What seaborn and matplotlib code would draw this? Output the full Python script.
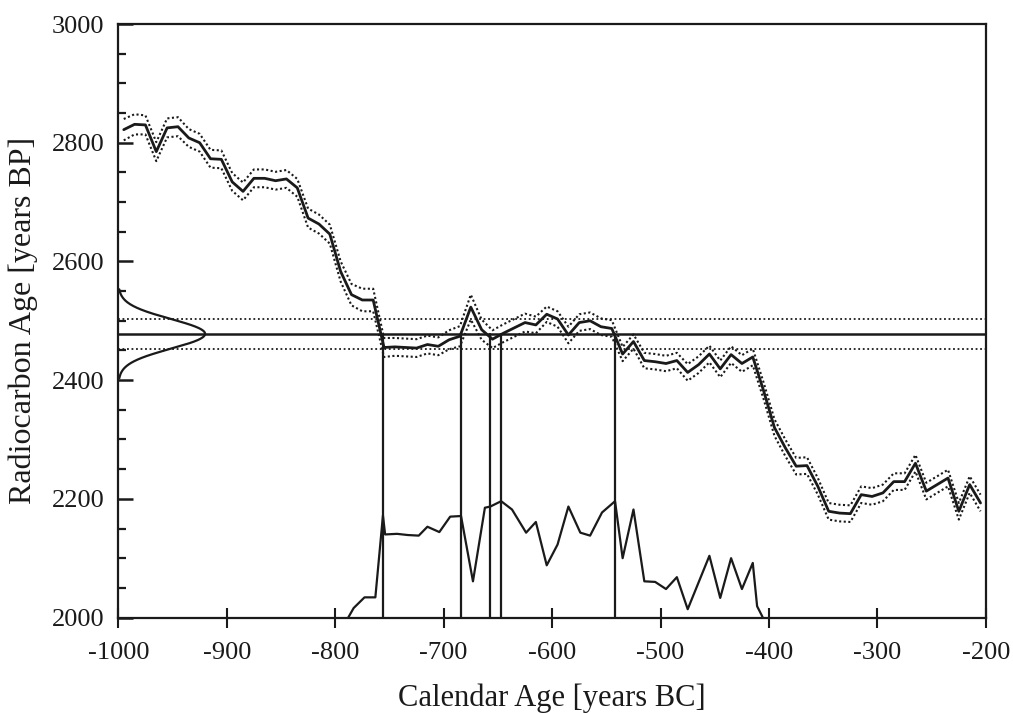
import numpy as np
import pandas as pd
import matplotlib
matplotlib.use("Agg")
import matplotlib.pyplot as plt
import seaborn as sns
from matplotlib.ticker import MultipleLocator

# ---- data ----
cal_years = list(range(-995, -200, 10))
cal_c14 = [2822, 2831, 2830, 2785, 2825, 2827, 2808, 2800, 2773, 2772,
           2734, 2718, 2740, 2740, 2736, 2739, 2724, 2673, 2663, 2646,
           2583, 2544, 2535, 2535, 2455, 2456, 2455, 2454, 2460, 2457,
           2468, 2474, 2523, 2485, 2469, 2479, 2488, 2497, 2493, 2511,
           2503, 2476, 2497, 2500, 2490, 2487, 2444, 2465, 2433, 2431,
           2428, 2433, 2413, 2426, 2444, 2419, 2443, 2428, 2439, 2382,
           2320, 2286, 2255, 2256, 2221, 2179, 2176, 2175, 2207, 2204,
           2210, 2229, 2229, 2260, 2213, 2224, 2235, 2179, 2224, 2193]
cal_sigma = [18, 17, 16, 16, 16, 16, 15, 15, 15, 15,
             15, 15, 15, 15, 15, 15, 15, 16, 16, 16,
             17, 18, 19, 19, 16, 15, 15, 15, 15, 15,
             16, 17, 21, 17, 15, 15, 15, 15, 14, 13,
             13, 14, 14, 14, 14, 14, 12, 12, 13, 13,
             13, 13, 14, 14, 14, 14, 14, 14, 14, 14,
             14, 14, 14, 14, 14, 14, 14, 14, 14, 14,
             14, 14, 14, 14, 14, 14, 14, 14, 14, 14]

sample_age = 2478
sample_sigma = 25

prob_years = [-788, -783, -773, -763, -756, -754, -743, -733, -723, -715,
              -704, -694, -684, -673, -662, -657, -647, -637, -624, -615,
              -605, -595, -585, -574, -565, -554, -542, -535, -525, -515,
              -505, -495, -485, -475, -455, -445, -435, -425, -415, -411, -406]
prob_curve = [2000, 2016, 2034, 2034, 2172, 2140, 2141, 2139, 2138, 2153,
              2144, 2170, 2171, 2061, 2185, 2187, 2196, 2182, 2143, 2161,
              2088, 2123, 2187, 2143, 2138, 2177, 2196, 2100, 2182, 2061,
              2060, 2048, 2068, 2014, 2104, 2033, 2100, 2048, 2092, 2019, 2001]

intercepts = [-756, -684, -657, -647, -542]

x_ticks = [-1000, -900, -800, -700, -600, -500, -400, -300, -200]
y_ticks = [2000, 2200, 2400, 2600, 2800, 3000]

# ---- style ----
sns.set_theme(style="ticks")
plt.rcParams["font.family"] = ["Liberation Serif", "DejaVu Serif"]
plt.rcParams["axes.linewidth"] = 1.6

fig = plt.figure(figsize=(10.13, 7.13), dpi=100)
ax = fig.add_axes([0.1168, 0.1339, 0.8565, 0.8324])

cal = pd.DataFrame({"year": cal_years, "c14": cal_c14, "sig": cal_sigma})
cal["upper"] = cal["c14"] + cal["sig"]
cal["lower"] = cal["c14"] - cal["sig"]

ink = "#1a1a1a"
# calibration curve with 1-sigma band
sns.lineplot(data=cal, x="year", y="c14", ax=ax, color=ink, lw=2.0)
sns.lineplot(data=cal, x="year", y="upper", ax=ax, color=ink, lw=1.5,
             linestyle=(0, (1, 1.2)))
sns.lineplot(data=cal, x="year", y="lower", ax=ax, color=ink, lw=1.5,
             linestyle=(0, (1, 1.2)))

# measured radiocarbon date: line and +/- sigma
ax.axhline(sample_age, color=ink, lw=1.8)
ax.axhline(sample_age + sample_sigma, color=ink, lw=1.3, linestyle=(0, (1, 1.5)))
ax.axhline(sample_age - sample_sigma, color=ink, lw=1.3, linestyle=(0, (1, 1.5)))

# gaussian of the measurement on the y axis
gy = np.linspace(sample_age - 3 * sample_sigma, sample_age + 3 * sample_sigma, 300)
gx = -1000 + 80 * np.exp(-0.5 * ((gy - sample_age) / sample_sigma) ** 2)
gauss = pd.DataFrame({"x": gx, "y": gy})
sns.lineplot(data=gauss, x="x", y="y", ax=ax, sort=False, color=ink, lw=1.6,
             estimator=None)

# intercept verticals
for xv in intercepts:
    ax.plot([xv, xv], [2000, sample_age], color=ink, lw=1.6)

# calendar probability distribution
prob = pd.DataFrame({"year": prob_years, "p": prob_curve})
sns.lineplot(data=prob, x="year", y="p", ax=ax, color=ink, lw=1.6)

ax.set_xlim(-1000, -200)
ax.set_ylim(2000, 3000)
ax.set_xticks(x_ticks)
ax.set_xticklabels([str(t) for t in x_ticks])
ax.set_yticks(y_ticks)
ax.set_yticklabels([str(t) for t in y_ticks])
ax.yaxis.set_minor_locator(MultipleLocator(50))

ax.tick_params(axis="x", which="major", direction="inout", length=15,
               width=1.5, labelsize=19, pad=10, colors=ink)
ax.tick_params(axis="y", which="major", direction="in", length=11,
               width=1.8, labelsize=19, pad=10, colors=ink)
ax.tick_params(axis="y", which="minor", direction="in", length=5.5,
               width=1.6, colors=ink)
for s in ax.spines.values():
    s.set_visible(True)
    s.set_color(ink)

ax.set_xlabel("Calendar Age [years BC]", fontsize=22, color=ink, labelpad=14)
ax.set_ylabel("Radiocarbon Age [years BP]", fontsize=23, color=ink, labelpad=10)
ax.set_facecolor("white")
fig.patch.set_facecolor("white")
ax.grid(False)

fig.savefig("out.png", dpi=100)
